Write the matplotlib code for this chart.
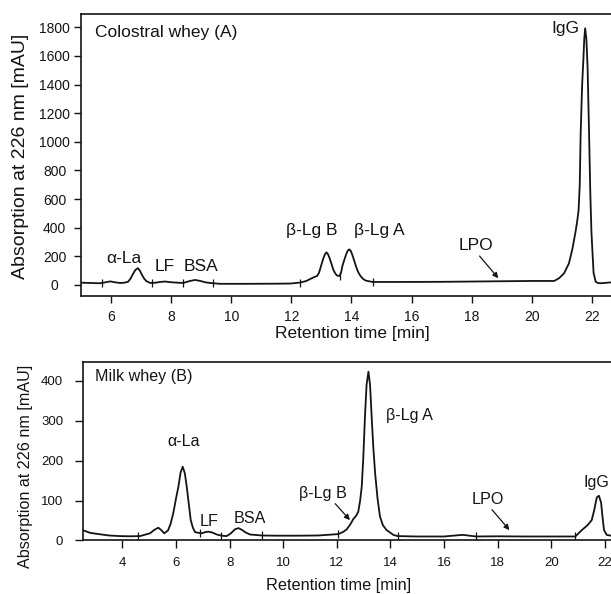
import numpy as np
import matplotlib.pyplot as plt

plt.rcParams['font.family'] = ['Liberation Sans', 'DejaVu Sans']

# --- colostral whey (A), retention time [min] vs absorption [mAU]
top_t = [5.0, 5.3, 5.63, 5.8, 5.97, 6.15, 6.3, 6.45, 6.57, 6.65, 6.73, 6.81,
         6.89, 6.96, 7.03, 7.10, 7.17, 7.3, 7.45, 7.63, 7.8, 7.95, 8.13, 8.4,
         8.63, 8.8, 8.97, 9.15, 9.3, 9.63, 10.5, 11.5, 11.97, 12.3, 12.5, 12.63,
         12.76, 12.86, 12.92, 12.97, 13.02, 13.07, 13.12, 13.17, 13.22, 13.27,
         13.34, 13.4, 13.47, 13.53, 13.61, 13.66, 13.7, 13.77, 13.83, 13.88,
         13.93, 13.98, 14.03, 14.1, 14.17, 14.23, 14.3, 14.38, 14.47, 14.7,
         15.6, 17.0, 18.0, 19.0, 20.0, 20.75, 20.91, 21.08, 21.24, 21.36, 21.47,
         21.52, 21.56, 21.60, 21.63, 21.68, 21.72, 21.75, 21.78, 21.82, 21.86,
         21.91, 21.95, 21.99, 22.06, 22.13, 22.2, 22.3, 22.64]
top_a = [16, 14, 12, 18, 25, 18, 14, 16, 23, 45, 77, 105,
         117, 100, 70, 45, 28, 14, 15, 21, 24, 20, 17, 14,
         28, 35, 28, 18, 14, 8, 8, 9, 10, 17, 28, 42,
         55, 63, 85, 119, 155, 189, 215, 228, 215, 189,
         145, 105, 78, 65, 63, 90, 133, 180, 217, 240,
         249, 238, 210, 165, 119, 88, 63, 44, 31, 21,
         21, 22, 24, 26, 28, 28, 47, 82, 151, 256, 384,
         454, 520, 700, 1060, 1400, 1572, 1720, 1793, 1720, 1525,
         1060, 650, 363, 84, 23, 14, 12, 18]
top_mark_t = [5.69, 7.36, 8.41, 9.38, 12.3, 13.61, 14.72]
top_mark_a = [13, 15, 14, 13, 17, 63, 21]

# --- milk whey (B)
bot_t = [2.52, 2.8, 3.17, 3.5, 3.91, 4.3, 4.66, 5.03, 5.2, 5.34, 5.45, 5.56,
         5.7, 5.80, 5.90, 6.0, 6.09, 6.17, 6.25, 6.33, 6.40, 6.48, 6.55, 6.63,
         6.71, 6.77, 6.95, 7.1, 7.21, 7.35, 7.52, 7.7, 7.89, 8.05, 8.2, 8.33,
         8.45, 8.6, 8.76, 9.2, 9.76, 10.5, 11.3, 12.06, 12.25, 12.37, 12.5,
         12.62, 12.72, 12.80, 12.87, 12.93, 12.99, 13.05, 13.11, 13.18, 13.24,
         13.30, 13.36, 13.43, 13.52, 13.61, 13.72, 13.86, 14.11, 14.27, 15.0,
         16.0, 16.5, 16.72, 16.95, 17.2, 18.0, 19.0, 20.0, 20.9, 21.14, 21.35,
         21.51, 21.60, 21.70, 21.78, 21.86, 21.92, 21.97, 22.07, 22.23]
bot_a = [26, 19, 15.5, 12.5, 11, 10.5, 11, 18, 27, 32, 26, 18,
         25, 42, 69, 105, 135, 170, 185, 168, 135, 90, 51, 32,
         21, 20, 18, 21, 22, 20, 15, 12, 11, 18, 28, 31,
         27, 20, 15, 12.5, 12, 12, 12.5, 16, 22, 28, 40,
         54, 62, 72, 100, 135, 210, 310, 390, 423, 390,
         310, 235, 168, 105, 60, 38, 26, 14, 11, 10,
         10, 13, 14, 12, 10, 10.5, 10, 10, 10, 26, 38,
         51, 75, 108, 112, 95, 55, 26, 14, 12]
bot_mark_t = [4.59, 6.9, 7.67, 9.2, 12.05, 14.27, 17.2, 20.9]
bot_mark_a = [11, 18, 12, 12.5, 16, 11, 10, 10]

ink = '#141414'
arrow = dict(arrowstyle='-|>', lw=0.9, color=ink, mutation_scale=8,
             shrinkA=0, shrinkB=0)

fig = plt.figure(figsize=(6.11, 5.94), dpi=100)

# top panel
ax1 = fig.add_axes([0.1326, 0.5017, 1 - 0.1326, 0.4747])
ax1.plot(top_t, top_a, color=ink, lw=1.3)
ax1.plot(top_mark_t, top_mark_a, ls='none', marker='|', ms=6, mew=0.9, color=ink)
ax1.set_xlim(5, 22.64)
ax1.set_ylim(-77, 1893)
ax1.set_xticks(np.arange(6, 23, 2))
ax1.set_yticks(np.arange(0, 1801, 200))
ax1.tick_params(axis='both', direction='out', length=5, width=1, colors=ink,
                labelsize=10)
ax1.tick_params(axis='x', pad=5)
ax1.tick_params(axis='y', pad=14)
for lab in ax1.get_yticklabels():
    lab.set_ha('center')
ax1.set_xlabel('Retention time [min]', fontsize=12.5, color=ink)
ax1.xaxis.set_label_coords(0.512, -0.132)
ax1.xaxis.label.set_va('center')
ax1.set_ylabel('Absorption at 226 nm [mAU]', fontsize=14, color=ink)
ax1.yaxis.set_label_coords(-0.115, 0.495)
ax1.yaxis.label.set_va('center')

ax1.text(5.47, 1767, 'Colostral whey (A)', fontsize=12.5, color=ink,
         ha='left', va='center')
ax1.text(6.43, 182, 'α-La', fontsize=12.5, color=ink, ha='center', va='center')
ax1.text(7.77, 126, 'LF', fontsize=12.5, color=ink, ha='center', va='center')
ax1.text(9.0, 128, 'BSA', fontsize=12.5, color=ink, ha='center', va='center')
ax1.text(12.67, 384, 'β-Lg B', fontsize=12.5, color=ink, ha='center', va='center')
ax1.text(14.93, 384, 'β-Lg A', fontsize=12.5, color=ink, ha='center', va='center')
ax1.text(21.12, 1793, 'IgG', fontsize=12.5, color=ink, ha='center', va='center')
ax1.annotate('LPO', xy=(18.89, 47), xytext=(18.13, 274), fontsize=12.5,
             color=ink, ha='center', va='center',
             arrowprops=dict(arrow, relpos=(0.55, 0.0)))

# bottom panel
ax2 = fig.add_axes([0.1354, 0.0901, 1 - 0.1354, 0.301])
ax2.plot(bot_t, bot_a, color=ink, lw=1.3)
ax2.plot(bot_mark_t, bot_mark_a, ls='none', marker='|', ms=6, mew=0.9, color=ink)
ax2.set_xlim(2.52, 22.23)
ax2.set_ylim(0, 448)
ax2.set_xticks(np.arange(4, 23, 2))
ax2.set_yticks(np.arange(0, 401, 100))
ax2.tick_params(axis='both', direction='out', length=6, width=1, colors=ink,
                labelsize=9.5)
ax2.tick_params(axis='x', pad=6)
ax2.tick_params(axis='y', pad=8)
ax2.set_xlabel('Retention time [min]', fontsize=11.7, color=ink)
ax2.xaxis.set_label_coords(0.484, -0.249)
ax2.xaxis.label.set_va('center')
ax2.set_ylabel('Absorption at 226 nm [mAU]', fontsize=11.6, color=ink)
ax2.yaxis.set_label_coords(-0.109, 0.417)
ax2.yaxis.label.set_va('center')

ax2.text(2.98, 411, 'Milk whey (B)', fontsize=11.6, color=ink,
         ha='left', va='center')
ax2.text(6.30, 249, 'α-La', fontsize=11.6, color=ink, ha='center', va='center')
ax2.text(7.23, 47, 'LF', fontsize=11.6, color=ink, ha='center', va='center')
ax2.text(8.76, 56, 'BSA', fontsize=11.6, color=ink, ha='center', va='center')
ax2.text(14.70, 313, 'β-Lg A', fontsize=11.6, color=ink, ha='center', va='center')
# nudged in from the edge so the whole label stays visible
ax2.text(22.17, 145, 'IgG', fontsize=11.6, color=ink, ha='right', va='center')
ax2.annotate('β-Lg B', xy=(12.49, 51), xytext=(11.49, 118), fontsize=11.6,
             color=ink, ha='center', va='center',
             arrowprops=dict(arrow, relpos=(0.7, 0.0)))
ax2.annotate('LPO', xy=(18.44, 26), xytext=(17.64, 103), fontsize=11.6,
             color=ink, ha='center', va='center',
             arrowprops=dict(arrow, relpos=(0.55, 0.0)))

for ax in (ax1, ax2):
    ax.spines['right'].set_visible(False)
    for side in ('left', 'top', 'bottom'):
        ax.spines[side].set_linewidth(1.2)
        ax.spines[side].set_color(ink)

fig.savefig('out.png', dpi=100)
plt.close(fig)
